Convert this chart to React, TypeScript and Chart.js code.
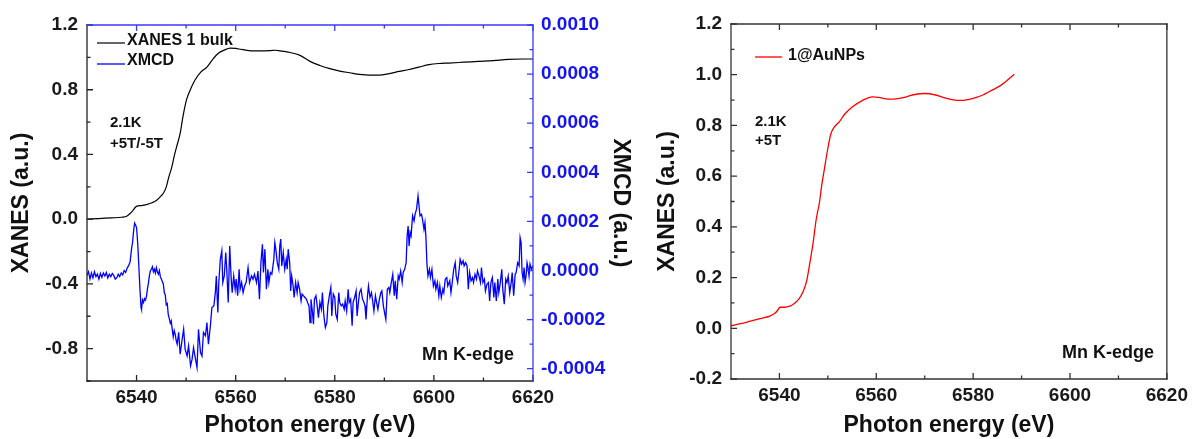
import React, { useEffect, useRef } from 'react';
import { Chart, registerables } from 'chart.js';

Chart.register(...registerables);

const FONT = "'Liberation Sans', Arial, Helvetica, sans-serif";

// ---------- data ----------
const seriesLabels = ['XANES 1 bulk', 'XMCD', '1@AuNPs'];

const bulkEnergy = [
  6530.0, 6531.0, 6533.0, 6535.0, 6537.0, 6538.0, 6538.7, 6539.3, 6539.8, 6540.3,
  6541.0, 6542.0, 6543.0, 6544.0, 6545.0, 6545.5, 6546.0, 6546.5, 6547.1, 6547.6,
  6548.2, 6548.8, 6549.4, 6550.1, 6551.0, 6551.8, 6553.0, 6554.2, 6555.3, 6556.5,
  6557.7, 6558.9, 6560.0, 6561.0, 6562.0, 6563.0, 6565.0, 6567.0, 6568.0, 6569.0,
  6571.0, 6573.0, 6575.0, 6577.0, 6579.0, 6581.0, 6583.0, 6585.0, 6587.0, 6589.0,
  6591.0, 6593.0, 6595.0, 6597.0, 6599.0, 6601.0, 6603.0, 6606.0, 6609.0, 6612.0,
  6615.0, 6618.0, 6620.0,
];
const bulkXanes = [
  0.000, 0.002, 0.005, 0.008, 0.012, 0.018, 0.035, 0.055, 0.075, 0.082,
  0.084, 0.090, 0.100, 0.115, 0.145, 0.165, 0.200, 0.260, 0.320, 0.390,
  0.460, 0.530, 0.640, 0.740, 0.810, 0.860, 0.910, 0.940, 0.985, 1.025,
  1.045, 1.057, 1.055, 1.050, 1.045, 1.040, 1.040, 1.042, 1.044, 1.040,
  1.030, 1.012, 0.975, 0.950, 0.930, 0.915, 0.905, 0.895, 0.890, 0.890,
  0.900, 0.913, 0.925, 0.940, 0.955, 0.962, 0.965, 0.970, 0.975, 0.980,
  0.987, 0.990, 0.990,
];

const xmcdEnergy = [
  6530.0, 6530.3, 6530.6, 6530.9, 6531.2, 6531.5, 6531.8, 6532.1, 6532.4, 6532.7,
  6533.0, 6533.3, 6533.6, 6533.9, 6534.2, 6534.5, 6534.8, 6535.1, 6535.4, 6535.7,
  6536.0, 6536.3, 6536.6, 6536.9, 6537.2, 6537.5, 6537.8, 6538.1, 6538.4, 6538.7,
  6539.0, 6539.2, 6539.4, 6539.6, 6539.8, 6540.0, 6540.2, 6540.3, 6540.5, 6540.7,
  6540.9, 6541.0, 6541.2, 6541.4, 6541.6, 6541.8, 6542.0, 6542.2, 6542.4, 6542.6,
  6542.8, 6543.0, 6543.2, 6543.4, 6543.6, 6543.8, 6544.0, 6544.2, 6544.4, 6544.6,
  6544.8, 6545.0, 6545.2, 6545.4, 6545.6, 6545.8, 6546.0, 6546.2, 6546.4, 6546.6,
  6546.8, 6547.0, 6547.2, 6547.4, 6547.6, 6547.8, 6548.0, 6548.2, 6548.5,
  6548.8, 6549.2, 6549.5, 6549.8, 6550.2, 6550.5, 6550.9, 6551.2, 6551.5, 6551.9,
  6552.2, 6552.5, 6552.9, 6553.2, 6553.5, 6553.9, 6554.2, 6554.5, 6554.9, 6555.2,
  6555.6, 6555.9, 6556.1, 6556.4, 6556.6, 6556.9, 6557.2, 6557.4, 6557.7, 6558.0,
  6558.2, 6558.5, 6558.8, 6559.1, 6559.3, 6559.6, 6559.9, 6560.1, 6560.4, 6560.7,
  6560.9, 6561.2, 6561.5, 6561.8, 6562.1, 6562.5, 6562.8, 6563.2, 6563.5, 6563.8,
  6564.2, 6564.5, 6564.8, 6565.1, 6565.4, 6565.6, 6565.9, 6566.2, 6566.5, 6566.7,
  6567.0, 6567.3, 6567.7, 6567.9, 6568.1, 6568.4, 6568.7, 6568.9, 6569.1, 6569.3,
  6569.6, 6569.9, 6570.2, 6570.4, 6570.6, 6570.9, 6571.1, 6571.3, 6571.6, 6571.8,
  6572.1, 6572.4, 6572.6, 6572.9, 6573.2, 6573.4, 6573.7, 6574.0, 6574.3, 6574.5,
  6574.8, 6575.0, 6575.2, 6575.5, 6575.7, 6575.9, 6576.2, 6576.5, 6576.7, 6577.0,
  6577.3, 6577.5, 6577.8, 6578.1, 6578.4, 6578.6, 6578.9, 6579.2, 6579.4, 6579.7,
  6580.0, 6580.2, 6580.5, 6580.8, 6581.0, 6581.3, 6581.6, 6581.9, 6582.1, 6582.4,
  6582.7, 6582.9, 6583.2, 6583.5, 6583.7, 6584.0, 6584.3, 6584.5, 6584.8,
  6585.0, 6585.3, 6585.6, 6585.8, 6586.1, 6586.3, 6586.6, 6586.8, 6587.1, 6587.4,
  6587.6, 6587.9, 6588.2, 6588.5, 6588.7, 6589.0, 6589.3, 6589.5, 6589.8, 6590.1,
  6590.3, 6590.6, 6590.9, 6591.1, 6591.4, 6591.7, 6592.0, 6592.2, 6592.5, 6592.8,
  6593.0, 6593.3, 6593.6, 6593.8, 6594.1, 6594.4, 6594.6, 6594.8, 6595.0, 6595.2,
  6595.4, 6595.7, 6596.0, 6596.2, 6596.5, 6596.8, 6597.0, 6597.2, 6597.5, 6597.7,
  6598.0, 6598.2, 6598.4, 6598.6, 6598.8, 6599.1, 6599.3, 6599.6, 6599.9, 6600.2,
  6600.4, 6600.7, 6601.0, 6601.2, 6601.5, 6601.8, 6602.0, 6602.3, 6602.6, 6602.8,
  6603.2, 6603.45, 6603.7, 6604.0, 6604.3, 6604.5, 6604.8, 6605.1, 6605.3, 6605.6,
  6605.9, 6606.1, 6606.4, 6606.7, 6606.95, 6607.2, 6607.5, 6607.8, 6608.0, 6608.3,
  6608.6, 6608.8, 6609.1, 6609.4, 6609.6, 6609.9, 6610.2, 6610.4, 6610.7, 6611.0,
  6611.25, 6611.5, 6611.8, 6612.1, 6612.3, 6612.6, 6612.9, 6613.1, 6613.4, 6613.7,
  6613.9, 6614.2, 6614.5, 6614.75, 6615.0, 6615.3, 6615.6, 6615.8, 6616.1, 6616.4,
  6616.6, 6616.9, 6617.2, 6617.4, 6617.6, 6617.8, 6618.0, 6618.2, 6618.4, 6618.6,
  6618.8, 6619.0, 6619.2, 6619.4, 6619.7, 6620.0,
];
const xmcdSignal = [
  -0.20e-4, -0.05e-4, -0.35e-4, -0.10e-4, -0.30e-4, -0.05e-4, -0.25e-4, -0.15e-4, -0.35e-4, -0.12e-4,
  -0.28e-4, -0.10e-4, -0.22e-4, -0.08e-4, -0.30e-4, -0.15e-4, -0.25e-4, -0.12e-4, -0.20e-4, -0.35e-4,
  -0.30e-4, -0.15e-4, -0.25e-4, -0.10e-4, -0.18e-4, 0.00e-4, -0.08e-4, 0.10e-4, 0.20e-4, 0.35e-4,
  0.90e-4, 1.15e-4, 1.60e-4, 1.93e-4, 1.85e-4, 1.75e-4, 1.20e-4, 0.85e-4, 0.00e-4, -0.80e-4,
  -1.50e-4, -1.58e-4, -1.20e-4, -1.30e-4, -1.15e-4, -1.20e-4, -1.05e-4, -0.75e-4, -0.50e-4, -0.20e-4,
  0.00e-4, 0.05e-4, 0.15e-4, -0.05e-4, 0.05e-4, -0.10e-4, 0.12e-4, -0.05e-4, -0.15e-4, 0.00e-4,
  -0.25e-4, -0.35e-4, -0.45e-4, -0.55e-4, -0.90e-4, -1.00e-4, -1.40e-4, -1.35e-4, -1.80e-4, -1.95e-4,
  -2.15e-4, -2.05e-4, -2.40e-4, -2.70e-4, -2.45e-4, -2.60e-4, -2.85e-4, -3.00e-4, -2.52e-4,
  -3.41e-4, -2.80e-4, -2.39e-4, -3.20e-4, -3.48e-4, -3.07e-4, -3.88e-4, -3.62e-4, -3.14e-4, -3.62e-4,
  -3.95e-4, -2.39e-4, -3.34e-4, -3.48e-4, -2.52e-4, -2.66e-4, -2.12e-4, -3.00e-4, -2.25e-4, -1.51e-4,
  -1.44e-4, -0.90e-4, -0.22e-4, -1.71e-4, -0.49e-4, 0.46e-4, 0.80e-4, -0.49e-4, -0.22e-4, 0.73e-4,
  0.05e-4, -1.30e-4, 1.00e-4, -0.35e-4, -0.90e-4, -0.22e-4, -0.76e-4, -0.35e-4, -1.03e-4, 0.05e-4,
  -0.76e-4, -0.49e-4, -0.90e-4, -0.63e-4, -0.49e-4, 0.12e-4, -0.49e-4, -0.22e-4, -0.35e-4, -0.15e-4,
  -0.49e-4, -0.02e-4, -1.17e-4, 0.32e-4, 1.07e-4, -0.08e-4, 0.87e-4, -0.76e-4, 0.05e-4, -0.49e-4,
  -0.08e-4, -0.15e-4, 0.46e-4, 1.14e-4, 0.87e-4, 0.32e-4, 0.05e-4, 1.00e-4, 1.28e-4, 0.19e-4,
  0.73e-4, 0.05e-4, 0.46e-4, 0.05e-4, 0.87e-4, 0.32e-4, -0.83e-4, -0.22e-4, -0.63e-4, -1.10e-4,
  -0.49e-4, -0.90e-4, -0.49e-4, -0.76e-4, -1.24e-4, -0.96e-4, -1.03e-4, -1.10e-4, -1.17e-4, -1.30e-4,
  -1.44e-4, -2.12e-4, -1.17e-4, -1.71e-4, -2.19e-4, -1.17e-4, -1.03e-4, -1.51e-4, -1.92e-4, -1.30e-4,
  -1.58e-4, -0.90e-4, -1.85e-4, -2.32e-4, -2.12e-4, -1.44e-4, -1.03e-4, -0.69e-4, -1.85e-4, -0.96e-4,
  -1.10e-4, -1.78e-4, -1.99e-4, -0.90e-4, -1.30e-4, -1.44e-4, -1.37e-4, -1.58e-4, -1.24e-4, -1.65e-4,
  -0.76e-4, -1.30e-4, -1.17e-4, -2.25e-4, -1.30e-4, -1.10e-4, -0.83e-4, -1.85e-4, -1.24e-4,
  -0.90e-4, -0.76e-4, -1.17e-4, -1.24e-4, -1.44e-4, -1.99e-4, -1.03e-4, -0.63e-4, -1.10e-4, -0.90e-4,
  -1.17e-4, -1.65e-4, -1.03e-4, -1.37e-4, -1.58e-4, -1.17e-4, -0.90e-4, -0.83e-4, -1.44e-4, -1.78e-4,
  -1.99e-4, -0.76e-4, -0.69e-4, -0.90e-4, -0.49e-4, -0.15e-4, -1.03e-4, -0.42e-4, -1.17e-4, -0.22e-4,
  -0.35e-4, -0.02e-4, -0.49e-4, -0.08e-4, 0.05e-4, 0.32e-4, 1.41e-4, 1.81e-4, 1.00e-4, 1.55e-4,
  1.41e-4, 2.23e-4, 2.02e-4, 2.29e-4, 2.50e-4, 3.04e-4, 2.63e-4, 2.23e-4, 2.29e-4, 2.09e-4,
  1.68e-4, 1.95e-4, 1.34e-4, 0.26e-4, -0.22e-4, 0.05e-4, -0.29e-4, 0.05e-4, -0.63e-4, -0.42e-4,
  -0.76e-4, -0.49e-4, -1.03e-4, -0.63e-4, -1.10e-4, -0.76e-4, -0.90e-4, -0.35e-4, -0.29e-4, -0.63e-4,
  -0.42e-4, -0.90e-4, -0.49e-4, 0.05e-4, 0.32e-4, -0.22e-4, -0.49e-4, 0.05e-4, 0.46e-4, 0.26e-4,
  0.39e-4, 0.19e-4, 0.32e-4, 0.19e-4, -0.76e-4, -0.08e-4, -0.42e-4, -0.29e-4, -0.49e-4, -0.15e-4,
  -0.35e-4, -0.02e-4, -0.22e-4, -0.49e-4, 0.12e-4, -0.49e-4, -0.35e-4, -0.83e-4, -0.56e-4, -0.49e-4,
  -1.24e-4, -0.49e-4, -0.29e-4, -1.10e-4, -0.49e-4, -1.24e-4, -0.35e-4, -0.90e-4, -0.49e-4, 0.05e-4,
  -0.76e-4, -1.37e-4, -0.35e-4, -0.49e-4, -0.22e-4, -0.90e-4, -0.49e-4, -0.08e-4, -1.03e-4, -0.15e-4,
  -0.08e-4, 0.32e-4, 0.19e-4, 1.34e-4, 1.14e-4, -0.08e-4, -0.35e-4, 0.12e-4, -0.49e-4, -0.22e-4,
  0.32e-4, 0.12e-4, -0.22e-4, 0.26e-4, 0.05e-4, 0.20e-4,
];

const aunpEnergy = [
  6530.0, 6532.0, 6534.0, 6536.0, 6538.0, 6539.0, 6539.6, 6540.1, 6541.0, 6542.0,
  6543.0, 6544.0, 6544.9, 6545.6, 6546.3, 6546.9, 6547.6, 6548.3, 6548.7, 6549.3,
  6550.0, 6550.6, 6551.2, 6552.4, 6553.5, 6555.1, 6557.0, 6559.2, 6560.5, 6562.0,
  6563.0, 6564.0, 6565.0, 6566.0, 6567.0, 6568.0, 6569.0, 6570.0, 6571.0, 6572.0,
  6573.0, 6574.0, 6575.0, 6576.0, 6577.0, 6578.0, 6579.0, 6580.0, 6581.0, 6582.0,
  6583.0, 6584.0, 6585.0, 6586.0, 6587.0, 6588.5,
];
const aunpXanes = [
  0.010, 0.018, 0.028, 0.038, 0.048, 0.058, 0.070, 0.083, 0.083, 0.086,
  0.097, 0.115, 0.145, 0.185, 0.260, 0.330, 0.430, 0.500, 0.560, 0.630,
  0.710, 0.765, 0.790, 0.815, 0.845, 0.874, 0.897, 0.913, 0.911, 0.905,
  0.904, 0.905, 0.908, 0.912, 0.918, 0.922, 0.925, 0.926, 0.925, 0.921,
  0.916, 0.910, 0.905, 0.901, 0.899, 0.899, 0.902, 0.907, 0.913, 0.920,
  0.930, 0.940, 0.950, 0.962, 0.977, 1.002,
];

const xMajorTicks = [6540, 6560, 6580, 6600, 6620];
const xMinorTicks = [6550, 6570, 6590, 6610];
const bulkYMajor = [-0.8, -0.4, 0.0, 0.4, 0.8, 1.2];
const bulkYMinor = [-1.0, -0.6, -0.2, 0.2, 0.6, 1.0];
const xmcdYMajor = [-0.0004, -0.0002, 0.0, 0.0002, 0.0004, 0.0006, 0.0008, 0.001];
const xmcdYMinor = [-0.0003, -0.0001, 0.0001, 0.0003, 0.0005, 0.0007, 0.0009];
const aunpYMajor = [-0.2, 0.0, 0.2, 0.4, 0.6, 0.8, 1.0, 1.2];
const aunpYMinor = [-0.1, 0.1, 0.3, 0.5, 0.7, 0.9, 1.1];

// ---------- helpers ----------
const tickFont = { family: FONT, size: 19, weight: 'bold' as const };
const titleFont = { family: FONT, size: 23, weight: 'bold' as const };

const pts = (xs: number[], ys: number[]) => xs.map((x, i) => ({ x, y: ys[i] }));
const fixedTicks = (values: number[]) => (scale: any) => {
  scale.ticks = values.map((v) => ({ value: v }));
};

type Side = { pos: 'left' | 'right' | 'top' | 'bottom'; scale?: string; color: string; major: number[]; minor: number[] };

function makeFramePlugin(sides: Side[]) {
  return {
    id: 'frameTicks',
    afterDatasetsDraw(chart: any) {
      const { ctx, chartArea: a } = chart;
      const majorLen = 6;
      const minorLen = 3.5;
      ctx.save();
      ctx.lineWidth = 1.3;
      ctx.lineCap = 'square';
      for (const s of sides) {
        ctx.strokeStyle = s.color;
        ctx.beginPath();
        if (s.pos === 'left') { ctx.moveTo(a.left, a.top); ctx.lineTo(a.left, a.bottom); }
        if (s.pos === 'right') { ctx.moveTo(a.right, a.top); ctx.lineTo(a.right, a.bottom); }
        if (s.pos === 'top') { ctx.moveTo(a.left, a.top); ctx.lineTo(a.right, a.top); }
        if (s.pos === 'bottom') { ctx.moveTo(a.left, a.bottom); ctx.lineTo(a.right, a.bottom); }
        ctx.stroke();
        const scale = s.scale ? chart.scales[s.scale] : null;
        if (scale) {
          ctx.lineCap = 'butt';
          ctx.beginPath();
          const tick = (v: number, len: number) => {
            const p = scale.getPixelForValue(v);
            if (s.pos === 'left') { ctx.moveTo(a.left, p); ctx.lineTo(a.left + len, p); }
            if (s.pos === 'right') { ctx.moveTo(a.right, p); ctx.lineTo(a.right - len, p); }
            if (s.pos === 'top') { ctx.moveTo(p, a.top); ctx.lineTo(p, a.top + len); }
            if (s.pos === 'bottom') { ctx.moveTo(p, a.bottom); ctx.lineTo(p, a.bottom - len); }
          };
          s.major.forEach((v) => tick(v, majorLen));
          s.minor.forEach((v) => tick(v, minorLen));
          ctx.stroke();
          ctx.lineCap = 'square';
        }
      }
      ctx.restore();
    },
  };
}

type Note =
  | { dataset: number; x1: number; x2: number; lineY: number; textX: number; textY: number; font: string; color: string }
  | { text: string; x: number; y: number; font: string; color: string };

function makeNotesPlugin(items: Note[]) {
  return {
    id: 'notes',
    afterDraw(chart: any) {
      const ctx = chart.ctx;
      ctx.save();
      ctx.textBaseline = 'middle';
      ctx.textAlign = 'left';
      for (const it of items as any[]) {
        if (it.dataset !== undefined) {
          const ds = chart.data.datasets[it.dataset];
          ctx.strokeStyle = ds.borderColor;
          ctx.lineWidth = ds.borderWidth;
          ctx.beginPath();
          ctx.moveTo(it.x1, it.lineY);
          ctx.lineTo(it.x2, it.lineY);
          ctx.stroke();
          ctx.fillStyle = it.color;
          ctx.font = it.font;
          ctx.fillText(ds.label, it.textX, it.textY);
        } else {
          ctx.fillStyle = it.color;
          ctx.font = it.font;
          ctx.fillText(it.text, it.x, it.y);
        }
      }
      ctx.restore();
    },
  };
}

const xScale = (height: number) => ({
  type: 'linear' as const,
  position: 'bottom' as const,
  min: 6530,
  max: 6620,
  bounds: 'data' as const,
  grid: { display: false, drawTicks: false },
  border: { display: false },
  afterBuildTicks: fixedTicks(xMajorTicks),
  afterFit: (s: any) => { s.height = height; },
  ticks: { font: tickFont, color: '#1a1a1a', padding: 5, maxRotation: 0, autoSkip: false, callback: (v: any) => String(v) },
  title: { display: true, text: 'Photon energy (eV)', font: titleFont, color: '#111', padding: { top: 0, bottom: 0 } },
});

const BLUE_AXIS = '#3838ff';
const DARK = '#222';

function leftConfig(): any {
  return {
    type: 'line',
    data: {
      datasets: [
        { label: seriesLabels[0], data: pts(bulkEnergy, bulkXanes), yAxisID: 'y', borderColor: '#000000', borderWidth: 1.2, pointRadius: 0, cubicInterpolationMode: 'monotone' },
        { label: seriesLabels[1], data: pts(xmcdEnergy, xmcdSignal), yAxisID: 'y2', borderColor: '#0000ff', borderWidth: 1.3, pointRadius: 0, tension: 0 },
      ],
    },
    options: {
      animation: false,
      responsive: false,
      maintainAspectRatio: false,
      layout: { padding: { left: 0, right: 0, top: 25, bottom: 0 } },
      plugins: { legend: { display: false }, tooltip: { enabled: false } },
      scales: {
        x: xScale(58),
        y: {
          type: 'linear', position: 'left', min: -1.0, max: 1.2, bounds: 'data',
          grid: { display: false, drawTicks: false }, border: { display: false },
          afterBuildTicks: fixedTicks(bulkYMajor),
          afterFit: (s: any) => { s.width = 87; },
          ticks: { font: tickFont, color: '#1a1a1a', padding: 9, autoSkip: false, callback: (v: any) => Number(v).toFixed(1) },
          title: { display: true, text: 'XANES (a.u.)', font: titleFont, color: '#111', padding: { top: 8, bottom: 0 } },
        },
        y2: {
          type: 'linear', position: 'right', min: -0.00045, max: 0.001, bounds: 'data',
          grid: { display: false, drawTicks: false }, border: { display: false },
          afterBuildTicks: fixedTicks(xmcdYMajor),
          afterFit: (s: any) => { s.width = 117; },
          ticks: { font: tickFont, color: '#1414f0', padding: 8, autoSkip: false, callback: (v: any) => Number(v).toFixed(4) },
          title: { display: true, text: 'XMCD (a.u.)', font: titleFont, color: '#111', padding: { top: 16, bottom: 0 } },
        },
      },
    },
    plugins: [
      makeFramePlugin([
        { pos: 'left', scale: 'y', color: DARK, major: bulkYMajor, minor: bulkYMinor },
        { pos: 'bottom', scale: 'x', color: DARK, major: xMajorTicks, minor: xMinorTicks },
        { pos: 'top', scale: 'x', color: BLUE_AXIS, major: xMajorTicks, minor: xMinorTicks },
        { pos: 'right', scale: 'y2', color: BLUE_AXIS, major: xmcdYMajor, minor: xmcdYMinor },
      ]),
      makeNotesPlugin([
        { dataset: 0, x1: 97, x2: 125, lineY: 43, textX: 127, textY: 41, font: `bold 16px ${FONT}`, color: '#111' },
        { dataset: 1, x1: 97, x2: 125, lineY: 64, textX: 127, textY: 61, font: `bold 16px ${FONT}`, color: '#111' },
        { text: '2.1K', x: 110, y: 122.5, font: `bold 15px ${FONT}`, color: '#111' },
        { text: '+5T/-5T', x: 110, y: 144, font: `bold 15px ${FONT}`, color: '#111' },
        { text: 'Mn K-edge', x: 422, y: 355, font: `bold 18px ${FONT}`, color: '#111' },
      ]),
    ],
  };
}

function rightConfig(): any {
  return {
    type: 'line',
    data: {
      datasets: [
        { label: seriesLabels[2], data: pts(aunpEnergy, aunpXanes), yAxisID: 'y', borderColor: '#ff0000', borderWidth: 1.3, pointRadius: 0, cubicInterpolationMode: 'monotone' },
      ],
    },
    options: {
      animation: false,
      responsive: false,
      maintainAspectRatio: false,
      layout: { padding: { left: 0, right: 24, top: 24, bottom: 0 } },
      plugins: { legend: { display: false }, tooltip: { enabled: false } },
      scales: {
        x: xScale(60),
        y: {
          type: 'linear', position: 'left', min: -0.2, max: 1.2, bounds: 'data',
          grid: { display: false, drawTicks: false }, border: { display: false },
          afterBuildTicks: fixedTicks(aunpYMajor),
          afterFit: (s: any) => { s.width = 81; },
          ticks: { font: tickFont, color: '#1a1a1a', padding: 9, autoSkip: false, callback: (v: any) => Number(v).toFixed(1) },
          title: { display: true, text: 'XANES (a.u.)', font: titleFont, color: '#111', padding: { top: 4, bottom: 0 } },
        },
      },
    },
    plugins: [
      makeFramePlugin([
        { pos: 'left', scale: 'y', color: '#333', major: aunpYMajor, minor: aunpYMinor },
        { pos: 'bottom', scale: 'x', color: '#333', major: xMajorTicks, minor: xMinorTicks },
        { pos: 'top', scale: 'x', color: '#333', major: xMajorTicks, minor: xMinorTicks },
        { pos: 'right', color: '#333', major: [], minor: [] },
      ]),
      makeNotesPlugin([
        { dataset: 0, x1: 105, x2: 132, lineY: 57, textX: 138, textY: 56, font: `bold 16px ${FONT}`, color: '#111' },
        { text: '2.1K', x: 105, y: 122, font: `bold 15px ${FONT}`, color: '#111' },
        { text: '+5T', x: 105, y: 141, font: `bold 15px ${FONT}`, color: '#111' },
        { text: 'Mn K-edge', x: 412, y: 353, font: `bold 18px ${FONT}`, color: '#111' },
      ]),
    ],
  };
}

export default function App() {
  const leftRef = useRef<HTMLCanvasElement>(null);
  const rightRef = useRef<HTMLCanvasElement>(null);

  useEffect(() => {
    document.body.style.margin = '0';
    const c1 = new Chart(leftRef.current as HTMLCanvasElement, leftConfig());
    const c2 = new Chart(rightRef.current as HTMLCanvasElement, rightConfig());
    return () => {
      c1.destroy();
      c2.destroy();
    };
  }, []);

  return (
    <div style={{ position: 'relative', width: 1193, height: 439, background: '#ffffff', overflow: 'hidden' }}>
      <canvas ref={leftRef} width={650} height={439} style={{ position: 'absolute', left: 0, top: 0 }} />
      <canvas ref={rightRef} width={543} height={439} style={{ position: 'absolute', left: 650, top: 0 }} />
    </div>
  );
}
